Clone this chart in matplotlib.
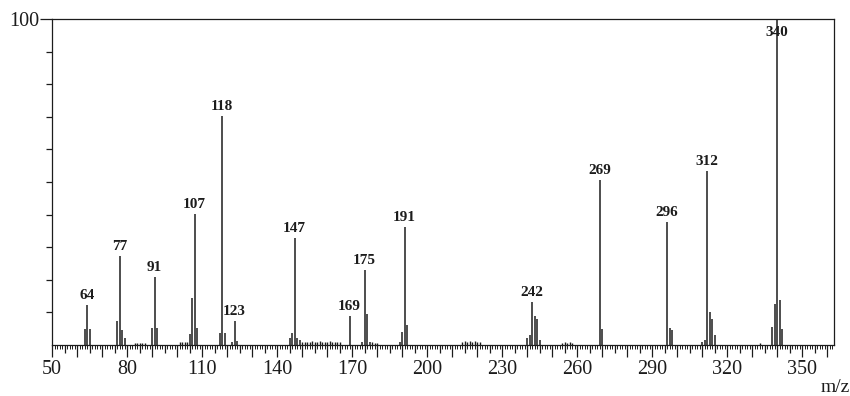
import matplotlib
matplotlib.use("Agg")
import matplotlib.pyplot as plt
from matplotlib.ticker import MultipleLocator, FixedLocator, FuncFormatter

plt.rcParams['font.family'] = ['Liberation Serif', 'DejaVu Serif']

# m/z values and relative intensities (%) of the main peaks
mz_main = [50, 63, 64, 65, 76, 77, 78, 79, 90, 91, 92,
           105, 106, 107, 108, 117, 118, 119, 122, 123, 124,
           145, 146, 147, 148, 149, 169, 174, 175, 176, 177,
           189, 190, 191, 192, 240, 241, 242, 243, 244, 245,
           269, 270, 296, 297, 298, 310, 311, 312, 313, 314, 315,
           338, 339, 340, 341, 342]
int_main = [6.7, 4.9, 12.3, 4.9, 7.4, 27.3, 4.6, 2.2, 5.2, 20.9, 5.2,
            3.3, 14.4, 40.2, 5.2, 3.8, 70.2, 3.8, 1.0, 7.4, 1.2,
            2.0, 3.7, 32.8, 2.0, 1.5, 8.9, 1.0, 23.0, 9.5, 1.0,
            1.0, 4.0, 36.2, 6.1, 2.0, 3.0, 13.2, 8.9, 7.9, 1.5,
            50.6, 4.9, 37.7, 5.2, 4.6, 1.0, 1.5, 53.4, 10.2, 7.9, 3.0,
            5.5, 12.6, 100.0, 13.8, 4.9]

# small background peaks near the baseline
mz_noise = [83, 84, 85, 86, 87, 101, 102, 103, 104,
            150, 151, 152, 153, 154, 155, 156, 157, 158, 159, 160,
            161, 162, 163, 164, 165, 178, 179, 180,
            214, 215, 216, 217, 218, 219, 220, 221,
            254, 255, 256, 257, 258, 333]
int_noise = [0.5, 0.5, 0.6, 0.6, 0.5, 0.8, 1.0, 0.8, 1.0,
             0.8, 1.0, 0.9, 1.0, 1.1, 0.9, 1.0, 1.1, 1.0, 0.9, 1.0,
             1.1, 1.0, 0.9, 1.0, 0.8, 0.8, 0.6, 0.6,
             0.9, 1.1, 1.0, 1.2, 1.0, 1.1, 0.9, 0.8,
             0.7, 0.8, 0.7, 0.8, 0.6, 0.5]

labeled_peaks = [64, 77, 91, 107, 118, 123, 147, 169, 175, 191,
                 242, 269, 296, 312, 340]

x_label_ticks = [50, 80, 110, 140, 170, 200, 230, 260, 290, 320, 350]

ink = '#1c1c1c'

fig = plt.figure(figsize=(8.5, 3.96), dpi=100)
ax = fig.add_axes([52/850, 1 - 345/396, (834 - 52)/850, (345 - 19)/396])

ax.vlines(mz_noise, 0, int_noise, colors=ink, lw=1.0)
ax.vlines(mz_main, 0, int_main, colors=ink, lw=1.1)

lookup = dict(zip(mz_main, int_main))
for m in labeled_peaks:
    h = lookup[m]
    if h > 95:
        ax.text(m, 95.8, str(m), ha='center', va='center', fontsize=11,
                fontweight='bold', color=ink)
    else:
        ax.annotate(str(m), (m, h), xytext=(0, 2), textcoords='offset points',
                    ha='center', va='bottom', fontsize=11, fontweight='bold',
                    color=ink)

ax.set_xlim(50, 362.8)
ax.set_ylim(0, 100)

for s in ax.spines.values():
    s.set_color(ink)
    s.set_linewidth(0.9)

# x ticks: every 5 (major, long at multiples of 10), every 1 (minor)
ax.xaxis.set_major_locator(MultipleLocator(5))
ax.xaxis.set_minor_locator(MultipleLocator(1))
ax.xaxis.set_major_formatter(FuncFormatter(
    lambda v, p: str(int(round(v))) if int(round(v)) in x_label_ticks else ''))
ax.tick_params(axis='x', which='major', direction='out', length=6, width=0.9,
               color=ink, labelsize=14.5, pad=5, labelcolor=ink)
ax.tick_params(axis='x', which='minor', direction='out', length=3.2, width=0.7,
               color=ink)
fig.canvas.draw()
for t in ax.xaxis.get_major_ticks():
    v = t.get_loc()
    if abs(v / 10 - round(v / 10)) < 1e-6:
        t.tick1line.set_markersize(8.5)

# y ticks: short every 10, long at 100 with label
ax.yaxis.set_major_locator(FixedLocator([100]))
ax.yaxis.set_minor_locator(FixedLocator([10, 20, 30, 40, 50, 60, 70, 80, 90]))
ax.tick_params(axis='y', which='major', direction='out', length=9, width=0.9,
               color=ink, labelsize=14.5, pad=0, labelcolor=ink)
ax.tick_params(axis='y', which='minor', direction='out', length=4, width=0.9,
               color=ink)

fig.text(835/850, 1 - 388/396, 'm/z', ha='center', va='center', fontsize=14,
         color=ink)

fig.savefig('out.png', dpi=100, facecolor='white')
